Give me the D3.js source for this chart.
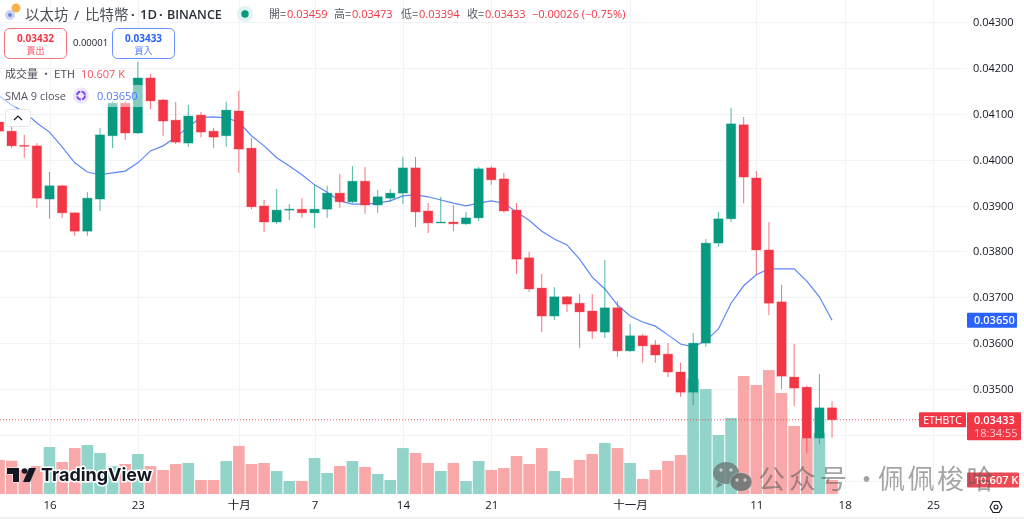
<!DOCTYPE html>
<html><head><meta charset="utf-8">
<script src="https://cdn.jsdelivr.net/npm/d3@7/dist/d3.min.js"></script>
<style>
html,body{margin:0;padding:0;background:#fff;overflow:hidden}
svg{display:block;font-family:"Open Sans","Noto Sans CJK TC",sans-serif;filter:blur(.3px)}
text{fill:#131722}
</style></head><body>
<svg id="c" width="1024" height="519"></svg>
<script>
const firstDay=-4;
const opens=[0.04082,0.04062,0.04031,0.0403,0.03914,0.03943,0.03884,0.03844,0.03914,0.04052,0.04123,0.04058,0.04178,0.0413,0.04086,0.04036,0.04097,0.04062,0.04052,0.04106,0.04025,0.03899,0.03864,0.0389,0.03892,0.03884,0.03892,0.03927,0.03908,0.03953,0.03901,0.03916,0.03927,0.03982,0.03888,0.03862,0.03864,0.0386,0.03873,0.03982,0.03958,0.0389,0.03786,0.0372,0.03659,0.03701,0.03687,0.0367,0.03624,0.03677,0.03583,0.03616,0.03596,0.03576,0.03537,0.03493,0.036,0.03818,0.03871,0.04076,0.0396,0.03803,0.0369,0.03526,0.03504,0.03393,0.03459];
const closes=[0.04062,0.0403,0.04029,0.03916,0.03943,0.03884,0.03844,0.03916,0.04054,0.04123,0.04058,0.04178,0.04128,0.04084,0.04038,0.04095,0.0406,0.04049,0.04108,0.04023,0.03897,0.03864,0.0389,0.03892,0.03884,0.03892,0.03927,0.03908,0.03953,0.03901,0.03919,0.03927,0.03982,0.03886,0.03862,0.03864,0.0386,0.03873,0.0398,0.03956,0.03888,0.03783,0.03718,0.03659,0.03701,0.03685,0.03668,0.03626,0.03677,0.03583,0.03616,0.03594,0.03574,0.03537,0.03493,0.036,0.03818,0.03871,0.04078,0.03962,0.03803,0.03687,0.03528,0.03502,0.03393,0.03459,0.03433];
const highs=[0.04091,0.04076,0.04054,0.04036,0.03973,0.03945,0.03885,0.03929,0.04069,0.04128,0.04128,0.04213,0.04187,0.04132,0.04126,0.04119,0.04104,0.04069,0.04126,0.0415,0.04047,0.03912,0.03936,0.03903,0.03916,0.03945,0.03943,0.03969,0.03986,0.03984,0.03934,0.03936,0.04006,0.04006,0.03905,0.03919,0.03901,0.03886,0.03984,0.03986,0.03971,0.03905,0.03799,0.03751,0.03722,0.03703,0.03707,0.03707,0.03781,0.03692,0.03642,0.0362,0.03607,0.036,0.03557,0.03622,0.03827,0.03886,0.04113,0.04093,0.03975,0.03864,0.03727,0.03598,0.03507,0.03533,0.03473];
const lows=[0.04054,0.04025,0.04004,0.03895,0.03871,0.03873,0.03834,0.03834,0.03888,0.04025,0.04043,0.04056,0.0411,0.04052,0.04034,0.04028,0.04049,0.04025,0.04028,0.03971,0.03892,0.03842,0.0386,0.03868,0.03873,0.03851,0.03873,0.03895,0.03905,0.03882,0.03884,0.03908,0.03903,0.03853,0.0384,0.03862,0.03844,0.03858,0.03866,0.03945,0.03884,0.03751,0.03711,0.03624,0.0365,0.03668,0.03589,0.03609,0.03611,0.0357,0.03581,0.03557,0.03557,0.03526,0.03483,0.03465,0.03592,0.0381,0.03864,0.03905,0.03749,0.03661,0.035,0.03463,0.0336,0.0338,0.03394];
const volumes=[25.8,25.2,18.2,21.2,35.6,24.2,34.8,37.1,31.1,21.2,22.7,30.3,21.2,18.2,22.7,23.5,10.6,10.6,25,36.4,22.7,23.5,17.4,9.8,9.8,27.3,15.9,21.2,25,20.5,15.2,10.6,34.8,31.1,23.5,17.4,23.5,9.8,25,18.2,19.7,28.8,22.7,34.8,17.4,12.1,25.8,30.3,38.6,34.8,23.5,11.4,18.2,25,29.5,87.1,79.5,44.7,57.6,89.4,82.6,93.9,76.5,51.5,42.4,46.2,10.607];
const sma9=[0.04139,0.04119,0.04104,0.0408,0.0406,0.04028,0.03993,0.03973,0.03967,0.03971,0.03975,0.03993,0.04019,0.0403,0.04049,0.04071,0.04092,0.04093,0.04091,0.04082,0.04052,0.0403,0.04004,0.03986,0.03967,0.03945,0.03929,0.0391,0.03903,0.03903,0.03905,0.0391,0.03921,0.03923,0.03919,0.03912,0.03905,0.03899,0.03905,0.0391,0.03905,0.03886,0.03868,0.03844,0.03827,0.03814,0.03783,0.03744,0.03718,0.03683,0.03659,0.03646,0.03637,0.03618,0.03598,0.03592,0.03605,0.03631,0.03687,0.03725,0.03749,0.03762,0.03762,0.03762,0.03735,0.03701,0.0365];
const dateTickDays=[0,7,15,21,28,35,46,56,63,70];
const dateTickLabels=["16","23","十月","7","14","21","十一月","11","18","25"];
const priceTicks=[0.043,0.042,0.041,0.04,0.039,0.038,0.037,0.036,0.035];
const extraGrid=[0.034,0.033];
const lastPrice=0.03433, lastSma=0.0365, lastVolume=10.607;

const GREEN="#089981",RED="#f23645",BLUE="#2962ff";
const svg=d3.select("#c");
const W=967,B=494;
const x=d3.scaleLinear().domain([0,70]).range([49.5,933]);
const y=d3.scaleLinear().domain([0.035,0.043]).range([389,22]);
const v=d3.scaleLinear().domain([0,100]).range([B,B-132]);
const step=x(1)-x(0);
const data=opens.map((o,i)=>({d:firstDay+i,o,c:closes[i],h:highs[i],l:lows[i],vol:volumes[i],up:closes[i]>=o}));

svg.append("defs").append("clipPath").attr("id","plot").append("rect").attr("width",W).attr("height",B);
const gridG=svg.append("g").attr("stroke","#f1f3f6").attr("stroke-width",1);
gridG.selectAll(".h").data(priceTicks.concat(extraGrid)).join("line").attr("x1",0).attr("x2",W)
  .attr("y1",d=>Math.round(y(d))+.5).attr("y2",d=>Math.round(y(d))+.5);
gridG.selectAll(".v").data(dateTickDays).join("line").attr("y1",0).attr("y2",B)
  .attr("x1",d=>Math.round(x(d))+.5).attr("x2",d=>Math.round(x(d))+.5);

const plot=svg.append("g").attr("clip-path","url(#plot)");
plot.append("g").selectAll("rect").data(data).join("rect")
  .attr("x",d=>x(d.d)-step*.46).attr("width",step*.92)
  .attr("y",d=>v(d.vol)).attr("height",d=>B-v(d.vol))
  .attr("fill",d=>d.up?"#92d4ca":"#f8a8a9");
plot.append("path").datum(sma9).attr("fill","none").attr("stroke","#5c87f7").attr("stroke-width",1.2)
  .attr("d",d3.line().x((d,i)=>x(firstDay+i)).y(d=>y(d)));
plot.append("line").attr("x1",0).attr("x2",919).attr("y1",y(lastPrice)).attr("y2",y(lastPrice))
  .attr("stroke",RED).attr("stroke-width",1).attr("stroke-dasharray","1 2").attr("opacity",.8);
const candle=plot.append("g");
candle.selectAll("line").data(data).join("line")
  .attr("x1",d=>x(d.d)).attr("x2",d=>x(d.d)).attr("y1",d=>y(d.h)).attr("y2",d=>y(d.l))
  .attr("stroke",d=>d.up?GREEN:RED).attr("stroke-width",1).attr("stroke-opacity",.7);
candle.selectAll("rect").data(data).join("rect")
  .attr("x",d=>x(d.d)-step*.37).attr("width",step*.74)
  .attr("y",d=>Math.min(y(d.o),y(d.c))).attr("height",d=>Math.max(1,Math.abs(y(d.o)-y(d.c))))
  .attr("fill",d=>d.up?GREEN:RED).attr("stroke",d=>d.up?GREEN:RED).attr("stroke-opacity",.3).attr("stroke-width",1);

// translucent legend row over candles
svg.append("rect").attr("x",0).attr("y",85).attr("width",146).attr("height",22).attr("fill","#fff").attr("opacity",.5);

// axes
const ax=svg.append("g").attr("transform",`translate(0,${B})`)
 .call(d3.axisBottom(x).tickValues(dateTickDays).tickFormat((d,i)=>dateTickLabels[i]).tickSize(0).tickPadding(7));
ax.select(".domain").remove();
ax.selectAll("text").attr("font-size",11.5).style("font-family",'"Open Sans","Noto Sans CJK TC",sans-serif').attr("fill","#131722");
const ay=svg.append("g").attr("transform",`translate(${W},0)`)
 .call(d3.axisRight(y).tickValues(priceTicks).tickFormat(d3.format(".5f")).tickSize(0).tickPadding(6));
ay.select(".domain").remove();
ay.selectAll("text").attr("font-size",11).style("font-family",'"Open Sans",sans-serif').attr("fill","#2a2e39");

// price labels
function box(xp,yp,w,h,f,r){svg.append("rect").attr("x",xp).attr("y",yp).attr("width",w).attr("height",h).attr("fill",f).attr("rx",r||1);}
function txt(xp,yp,s,sz,f,o={}){const t=svg.append("text").attr("x",xp).attr("y",yp).attr("font-size",sz).style("fill",f).attr("text-anchor",o.a||"start").attr("font-weight",o.w||400).text(s);if(o.fam)t.style("font-family",o.fam);if(o.op)t.attr("opacity",o.op);return t;}
box(967,y(lastSma)-7.5,50,15,BLUE);
txt(974,y(lastSma)+4,d3.format(".5f")(lastSma),11,"#fff",{w:600});
box(919,y(lastPrice)-7.5,47,15,RED);
txt(942.5,y(lastPrice)+4,"ETHBTC",10.5,"#fff",{a:"middle"});
box(967,y(lastPrice)-7.5,54,28,RED);
txt(974,y(lastPrice)+4,d3.format(".5f")(lastPrice),11,"#fff",{w:600});
txt(974,y(lastPrice)+17.5,"18:34:55",11,"#fff",{op:.75});

// watermark & volume tag
box(967,v(lastVolume)-7.5,52,15,"#ee4a55");
txt(974,v(lastVolume)+4,lastVolume+" K",11,"#fff",{w:600});
const wm=svg.append("g");
wm.append("ellipse").attr("cx",726).attr("cy",473).attr("rx",13).attr("ry",11).attr("fill","#6f7f7c").attr("opacity",.85);
wm.append("path").attr("d","M718 482l-2 6 7-3z").attr("fill","#6f7f7c").attr("opacity",.85);
wm.append("ellipse").attr("cx",741).attr("cy",482).attr("rx",11).attr("ry",9.5).attr("fill","#6f7574").attr("opacity",.9).attr("stroke","#fff").attr("stroke-opacity",.35);
[[721,470],[731,470],[737,480],[745,480]].forEach(p=>wm.append("circle").attr("cx",p[0]).attr("cy",p[1]).attr("r",1.7).attr("fill","#fff").attr("opacity",.6));
txt(758,489,"公众号",27,"#5a5a5a",{op:.55,fam:'"Noto Sans CJK SC"'}).attr("letter-spacing",4);
txt(853,489,"·",27,"#5a5a5a",{op:.55,fam:'"Noto Sans CJK SC"'});
txt(878,489,"佩佩梭哈",27,"#5a5a5a",{op:.55,fam:'"Noto Sans CJK SC"'}).attr("letter-spacing",2.5);

// TradingView logo
const tv=svg.append("g");
tv.append("text").attr("x",41).attr("y",481).attr("font-size",18).attr("font-weight",700).style("font-family",'"Inter","Open Sans",sans-serif').style("fill","#131722")
  .style("stroke","#fff").style("stroke-width",3).style("paint-order","stroke").attr("textLength",111).text("TradingView");
tv.append("path").attr("d","M7 468h12v14h-6v-8H7z").attr("fill","#131722").attr("stroke","#fff").attr("stroke-width",1).style("paint-order","stroke");
tv.append("circle").attr("cx",24.5).attr("cy",471).attr("r",2.8).attr("fill","#131722");
tv.append("path").attr("d","M29 468h7l-6 14h-7z").attr("fill","#131722");

// header
svg.append("circle").attr("cx",16).attr("cy",8).attr("r",4.5).attr("fill","#f6a52e").attr("opacity",.85);
svg.append("circle").attr("cx",10).attr("cy",15).attr("r",5).attr("fill","#c9d3f2");
svg.append("circle").attr("cx",10).attr("cy",15).attr("r",2).attr("fill","#6f86d6");
txt(25,19.5,"以太坊",14.5,"#4a4e59",{fam:'"Noto Sans CJK TC"'});
txt(74,19.5,"/",13,"#4a4e59",{w:600});
txt(85,19.5,"比特幣",14.5,"#4a4e59",{fam:'"Noto Sans CJK TC"'});
txt(131,19,"·",13,"#2a2e39",{w:700});
txt(140,19,"1D",13,"#2a2e39",{w:600});
txt(159,19,"·",13,"#2a2e39",{w:700});
txt(167,19,"BINANCE",12.5,"#2a2e39",{w:600});
svg.append("circle").attr("cx",245).attr("cy",14).attr("r",8).attr("fill","#dff3ef");
svg.append("circle").attr("cx",245).attr("cy",14).attr("r",3.7).attr("fill",GREEN);
[["開",269,"0.03459",287],["高",334,"0.03473",352],["低",401,"0.03394",419],["收",467,"0.03433",485]].forEach(r=>{
  txt(r[1],18,r[0]+"=",11,"#555b66",{fam:'"Noto Sans CJK TC"'});
  txt(r[3],18,r[2],11,RED);
});
txt(532,18,"−0.00026 (−0.75%)",11,RED);

// buy/sell
function btn(xp,c,val,lab){
 svg.append("rect").attr("x",xp+.5).attr("y",28.5).attr("width",62).attr("height",30).attr("rx",5).attr("fill","#fff").attr("stroke",c).attr("stroke-opacity",.7);
 txt(xp+31.5,42,val,10,c,{a:"middle",w:700});
 txt(xp+31.5,54,lab,9,c,{a:"middle",fam:'"Noto Sans CJK TC"',op:.8});
}
btn(4,RED,"0.03432","賣出");
btn(112,BLUE,"0.03433","買入");
txt(73,46,"0.00001",9.5,"#131722");

// legend
txt(5,78,"成交量 · ETH",11,"#4a4e59",{fam:'"Noto Sans CJK TC"'});
txt(81,78,"10.607 K",11,"#f7525f");
txt(5,100,"SMA 9 close",11,"#50535e");
svg.append("circle").attr("cx",81).attr("cy",95.5).attr("r",8).attr("fill","#ece5fb");
svg.append("circle").attr("cx",81).attr("cy",95.5).attr("r",4).attr("fill","none").attr("stroke","#7b3ff2").attr("stroke-width",1.8).attr("stroke-dasharray","5 1.3");
txt(97,100,"0.03650",11,"#4f7bf6");
svg.append("rect").attr("x",5.5).attr("y",109.5).attr("width",25).attr("height",17).attr("rx",3).attr("fill","#fff").attr("stroke","#e0e3eb");
svg.append("path").attr("d","M14 120l4-4 4 4").attr("fill","none").attr("stroke","#131722").attr("stroke-width",1.2);

// settings icon
svg.append("path").attr("d","M990 507l3-5.5h6l3 5.5-3 5.5h-6z").attr("fill","none").attr("stroke","#131722").attr("stroke-width",1.1);
svg.append("circle").attr("cx",996).attr("cy",507).attr("r",2).attr("fill","none").attr("stroke","#131722").attr("stroke-width",1.1);
svg.append("rect").attr("x",0).attr("y",517).attr("width",1024).attr("height",2).attr("fill","#f0f1f3");
</script>
</body></html>
